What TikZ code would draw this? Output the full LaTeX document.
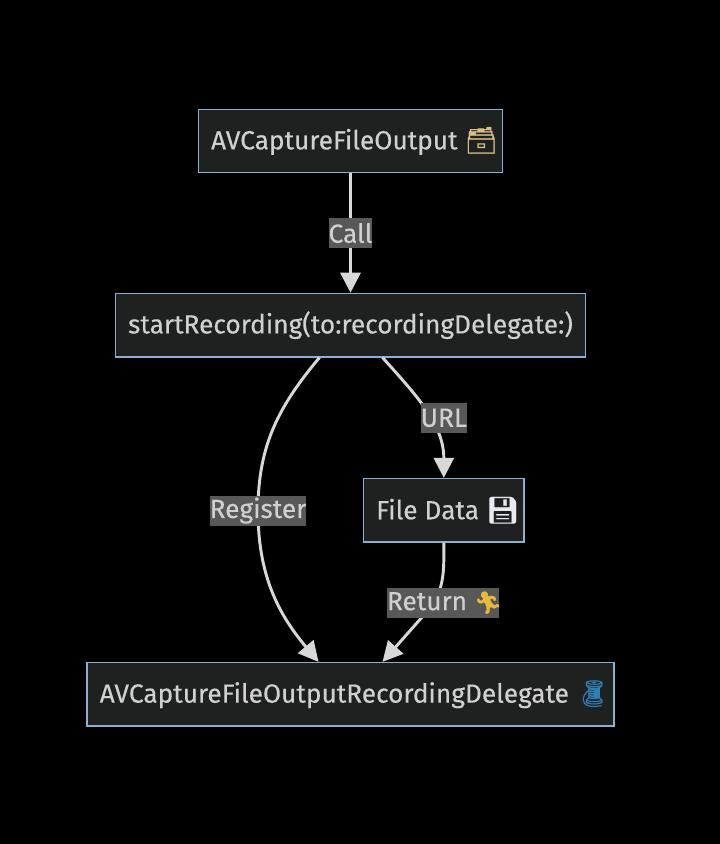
\documentclass[tikz,border=0pt]{standalone}
\usepackage{fontspec}
\setmainfont[FakeBold=0.3]{Fira Sans}
\newfontfamily\emojifont[FakeBold=0.6]{Noto Emoji}
\usetikzlibrary{positioning,calc,arrows.meta}
\definecolor{nodefill}{HTML}{1F2020}
\definecolor{nodeline}{HTML}{8BB0D4}
\definecolor{inktext}{HTML}{D0D0D0}
\definecolor{labelfill}{HTML}{585858}
\definecolor{edgeline}{HTML}{D8D8D8}
\newcommand{\emo}[2]{{\emojifont\textcolor[HTML]{#1}{#2}}\kern-6pt\relax}

\begin{document}
\begin{tikzpicture}[
	x=0.75pt,y=0.75pt,
	mynode/.style={draw=nodeline, line width=1.1pt, fill=nodefill, text=inktext, font=\fontsize{19.7}{23}\selectfont, minimum height=47.5pt, inner xsep=9.5pt, inner ysep=0pt},
	mylabel/.style={fill=labelfill, text=inktext, font=\fontsize{19.7}{23}\selectfont, minimum height=22.5pt, inner xsep=0pt, inner ysep=0pt},
	myedge/.style={draw=edgeline, line width=2.2pt, -{Triangle[length=15pt,width=15pt]}}
	]

	\fill[black] (-350.5,141) rectangle (369.5,-703);

	\node[mynode] (afo) at (0,0) {AVCaptureFileOutput \emo{D9BE85}{🗃}};
	\node[mynode,below = 89.5pt of afo] (start) {startRecording(to:recordingDelegate:)};
	\node[mynode,below = 90.25pt of start, xshift=70pt] (file) {File Data \emo{E8EAF0}{💾}};
	\node[mynode,below = 228.25pt of start] (dlg) {AVCaptureFileOutputRecordingDelegate \emo{2F7FB5}{🧵}};

	% edge ends
	\coordinate (regin) at ($(start.south)+(-31,0)$);
	\coordinate (regmid) at ($(start.south)+(-92.5,-153)$);
	\coordinate (regout) at ($(dlg.north)+(-32,0)$);
	\coordinate (urlin) at ($(start.south)+(32,0)$);
	\coordinate (urlmid) at ($(file.north)+(0,60)$);
	\coordinate (retmid) at ($(file.south)+(-9,-60)$);
	\coordinate (retout) at ($(dlg.north)+(32,0)$);

	\path (afo) edge[myedge] node[mylabel] {Call} (start);
	\draw[myedge] (urlin) to[out=-48,in=90] (file.north);
	\node[mylabel] (urllabel) at (urlmid) {URL};
	\draw[myedge] (regin) to[out=-130,in=90] node[mylabel,pos=1] {Register} (regmid) to[out=-90,in=130] (regout);
	\draw[myedge] (file.south) to[out=-90,in=65] node[mylabel,pos=1,xshift=6pt] {Return {\fontsize{16.5}{20}\selectfont\emo{E8B93C}{🏃}}\kern3.5pt\relax} (retmid) -- (retout);

\end{tikzpicture}
\end{document}
